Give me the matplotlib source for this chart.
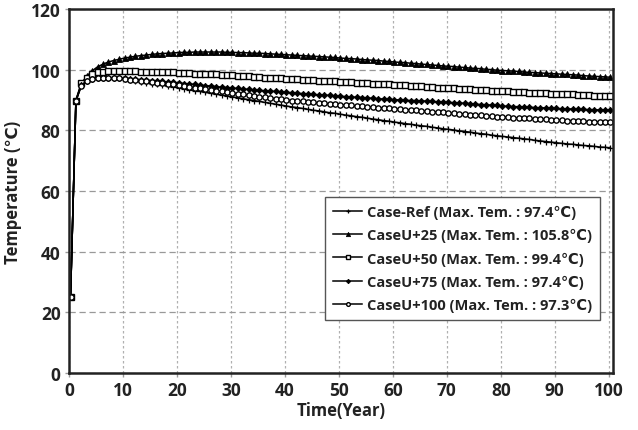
import matplotlib
matplotlib.use("Agg")
import matplotlib.pyplot as plt

plt.rcParams['font.family'] = ['Open Sans', 'DejaVu Sans']
plt.rcParams['font.weight'] = 'bold'

years = list(range(0, 101))

case_ref = [
    25.0, 89.8, 94.8, 96.3, 97.0, 97.3, 97.4, 97.4, 97.3, 97.1, 96.8,
    96.5, 96.3, 96.0, 95.7, 95.4, 95.1, 94.9, 94.6, 94.3, 94.0,
    93.7, 93.4, 93.1, 92.8, 92.5, 92.2, 91.9, 91.6, 91.3, 91.0,
    90.7, 90.4, 90.1, 89.8, 89.5, 89.2, 88.9, 88.6, 88.3, 88.0,
    87.7, 87.5, 87.2, 86.9, 86.6, 86.4, 86.1, 85.8, 85.6, 85.3,
    85.0, 84.8, 84.5, 84.3, 84.0, 83.7, 83.5, 83.2, 83.0, 82.7,
    82.5, 82.2, 82.0, 81.7, 81.5, 81.3, 81.0, 80.8, 80.5, 80.3,
    80.1, 79.8, 79.6, 79.4, 79.1, 78.9, 78.7, 78.4, 78.2, 78.0,
    77.8, 77.6, 77.4, 77.2, 77.0, 76.7, 76.5, 76.3, 76.1, 75.9,
    75.7, 75.5, 75.4, 75.2, 75.0, 74.9, 74.7, 74.5, 74.4, 74.2,
]

case_u25 = [
    25.0, 90.0, 95.5, 97.8, 99.6, 100.9, 101.8, 102.5, 103.0, 103.4, 103.8,
    104.1, 104.4, 104.6, 104.8, 105.0, 105.2, 105.3, 105.4, 105.5, 105.6,
    105.7, 105.7, 105.8, 105.8, 105.8, 105.8, 105.8, 105.8, 105.7, 105.7,
    105.6, 105.6, 105.5, 105.4, 105.4, 105.3, 105.2, 105.1, 105.0, 104.9,
    104.8, 104.7, 104.6, 104.5, 104.4, 104.3, 104.2, 104.1, 104.0, 103.8,
    103.7, 103.6, 103.5, 103.3, 103.2, 103.1, 103.0, 102.8, 102.7, 102.5,
    102.4, 102.3, 102.1, 102.0, 101.8, 101.7, 101.5, 101.4, 101.2, 101.1,
    101.0, 100.8, 100.7, 100.5, 100.4, 100.3, 100.1, 100.0, 99.8, 99.7,
    99.6, 99.5, 99.4, 99.2, 99.1, 99.0, 98.9, 98.8, 98.7, 98.6,
    98.5, 98.4, 98.3, 98.2, 98.0, 97.9, 97.8, 97.7, 97.6, 97.5,
]

case_u50 = [
    25.0, 89.8, 95.5, 97.3, 98.6, 99.1, 99.3, 99.4, 99.4, 99.4, 99.4,
    99.4, 99.4, 99.3, 99.3, 99.3, 99.2, 99.2, 99.1, 99.1, 99.0,
    98.9, 98.8, 98.7, 98.6, 98.6, 98.5, 98.4, 98.3, 98.2, 98.1,
    98.0, 97.9, 97.8, 97.7, 97.6, 97.4, 97.3, 97.2, 97.1, 97.0,
    96.9, 96.8, 96.7, 96.6, 96.5, 96.4, 96.3, 96.2, 96.1, 96.0,
    95.9, 95.8, 95.7, 95.6, 95.5, 95.4, 95.3, 95.2, 95.1, 95.0,
    94.9, 94.8, 94.7, 94.6, 94.5, 94.3, 94.2, 94.1, 94.0, 93.9,
    93.8, 93.7, 93.6, 93.5, 93.4, 93.3, 93.2, 93.1, 93.0, 92.9,
    92.8, 92.7, 92.6, 92.5, 92.4, 92.3, 92.3, 92.2, 92.1, 92.0,
    91.9, 91.8, 91.8, 91.7, 91.6, 91.5, 91.4, 91.4, 91.3, 91.2,
]

case_u75 = [
    25.0, 89.8, 94.8, 96.4, 97.0, 97.3, 97.4, 97.4, 97.3, 97.2, 97.1,
    97.0, 96.8, 96.7, 96.5, 96.4, 96.2, 96.1, 95.9, 95.8, 95.6,
    95.4, 95.3, 95.1, 94.9, 94.7, 94.6, 94.4, 94.2, 94.1, 93.9,
    93.8, 93.6, 93.5, 93.3, 93.2, 93.0, 92.9, 92.8, 92.6, 92.5,
    92.4, 92.2, 92.1, 92.0, 91.8, 91.7, 91.6, 91.5, 91.3, 91.2,
    91.1, 91.0, 90.9, 90.8, 90.7, 90.5, 90.4, 90.3, 90.2, 90.1,
    90.0, 89.9, 89.8, 89.8, 89.7, 89.6, 89.5, 89.4, 89.3, 89.2,
    89.1, 89.0, 88.9, 88.8, 88.6, 88.5, 88.4, 88.3, 88.2, 88.0,
    87.9, 87.8, 87.8, 87.7, 87.6, 87.5, 87.4, 87.4, 87.3, 87.2,
    87.1, 87.1, 87.0, 86.9, 86.9, 86.8, 86.8, 86.7, 86.7, 86.6,
]

case_u100 = [
    25.0, 89.6, 94.6, 96.2, 96.9, 97.2, 97.3, 97.3, 97.2, 97.1, 96.9,
    96.7, 96.5, 96.3, 96.1, 95.9, 95.7, 95.5, 95.3, 95.1, 94.9,
    94.6, 94.4, 94.1, 93.9, 93.6, 93.3, 93.1, 92.8, 92.6, 92.3,
    92.1, 91.8, 91.6, 91.4, 91.1, 90.9, 90.7, 90.4, 90.2, 90.0,
    89.8, 89.7, 89.5, 89.4, 89.2, 89.0, 88.9, 88.7, 88.6, 88.4,
    88.3, 88.2, 88.0, 87.9, 87.8, 87.6, 87.5, 87.4, 87.2, 87.1,
    87.0, 86.8, 86.7, 86.6, 86.4, 86.3, 86.1, 86.0, 85.9, 85.7,
    85.6, 85.5, 85.3, 85.2, 85.1, 84.9, 84.8, 84.7, 84.5, 84.4,
    84.3, 84.2, 84.1, 84.0, 83.9, 83.8, 83.7, 83.6, 83.5, 83.4,
    83.3, 83.2, 83.2, 83.1, 83.0, 82.9, 82.9, 82.8, 82.7, 82.6,
]

labels = [
    "Case-Ref (Max. Tem. : 97.4\u2103)",
    "CaseU+25 (Max. Tem. : 105.8\u2103)",
    "CaseU+50 (Max. Tem. : 99.4\u2103)",
    "CaseU+75 (Max. Tem. : 97.4\u2103)",
    "CaseU+100 (Max. Tem. : 97.3\u2103)",
]

x_ticks = [0, 10, 20, 30, 40, 50, 60, 70, 80, 90, 100]
y_ticks = [0, 20, 40, 60, 80, 100, 120]

fig = plt.figure(figsize=(6.38, 4.31), dpi=100)
ax = fig.add_axes([0.108, 0.132, 0.853, 0.845])

x = [t + 0.3 for t in years]
ax.plot(x, case_ref, color='black', lw=1.1, marker='+', ms=5, mew=0.9, label=labels[0])
ax.plot(x, case_u25, color='black', lw=1.1, marker='^', ms=4.4, mfc='black', mew=0.6, label=labels[1])
ax.plot(x, case_u50, color='black', lw=1.1, marker='s', ms=3.8, mfc='white', mew=1.0, label=labels[2])
ax.plot(x, case_u75, color='black', lw=1.1, marker='D', ms=3.2, mfc='black', mew=0.6, label=labels[3])
ax.plot(x, case_u100, color='black', lw=1.1, marker='o', ms=3.8, mfc='white', mew=1.0, label=labels[4])

ax.set_xlim(0, 100.8)
ax.set_ylim(0, 120)
ax.set_xticks(x_ticks)
ax.set_yticks(y_ticks)

ax.yaxis.grid(True, color='#999999', ls=(0, (5, 3)), lw=0.9)
ax.xaxis.grid(True, color='#b0b0b0', ls=(0, (2, 2)), lw=0.9)
ax.set_axisbelow(True)

for s in ax.spines.values():
    s.set_linewidth(1.8)
    s.set_color('#222222')

ax.tick_params(direction='out', length=3, width=1, color='#999999',
               labelsize=12.5, labelcolor='#222222', pad=3)
for lab in ax.get_xticklabels() + ax.get_yticklabels():
    lab.set_fontweight('bold')

ax.set_xlabel("Time(Year)", fontsize=12, fontweight='bold', color='#222222', labelpad=1)
ax.set_ylabel("Temperature (\u2103)", fontsize=12, fontweight='bold', color='#222222', labelpad=6)

leg = ax.legend(loc='lower right', bbox_to_anchor=(0.989, 0.126), fancybox=False,
                framealpha=1, edgecolor='#555555', fontsize=10.5, handlelength=2.0,
                handletextpad=0.3, borderpad=0.55, labelspacing=0.62, markerscale=0.7)
leg.get_frame().set_linewidth(1.0)
for t in leg.get_texts():
    t.set_fontweight('bold')
    t.set_color('#222222')

fig.savefig("out.png", dpi=100)
